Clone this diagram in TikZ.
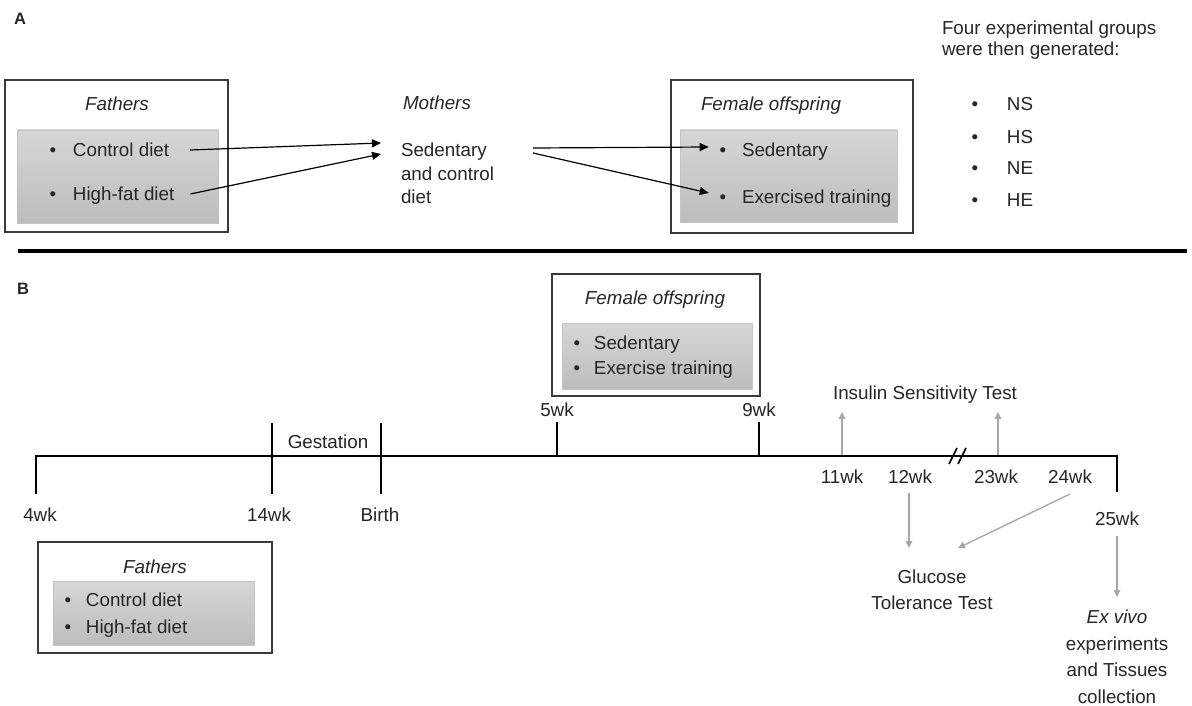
\documentclass[tikz,border=0pt]{standalone}
\usepackage{fontspec}
\setmainfont{Liberation Sans}
\usetikzlibrary{arrows.meta}
\definecolor{txt}{HTML}{262626}
\definecolor{garr}{HTML}{A6A6A6}
\definecolor{boxline}{HTML}{3A3A3A}
\definecolor{gtop}{HTML}{D6D6D6}
\definecolor{gbot}{HTML}{BDBDBD}
\definecolor{ginline}{HTML}{C4C4C4}
\newcommand\bitem[2]{\makebox[#1][l]{\textbullet}#2}
\begin{document}
\begin{tikzpicture}[x=1pt,y=-1pt,
  every node/.style={inner sep=0pt, outer sep=0pt, text=txt, font=\fontsize{18.8}{23.5}\selectfont},
  lbl/.style={text height=13.5pt,text depth=0pt},
  outerbox/.style={draw=boxline,line width=1.3pt,fill=white,anchor=north west},
  innerbox/.style={draw=ginline,line width=0.8pt,top color=gtop,bottom color=gbot,anchor=north west},
  blk/.style={draw=black,line width=1.2pt,-{Triangle[length=9pt,width=8pt]}},
  garrow/.style={draw=garr,line width=1.3pt,-{Triangle[length=7pt,width=6.5pt]}},
  axis/.style={draw=black,line width=1.8pt},
  tick/.style={draw=black,line width=2pt},
  panel/.style={lbl,font=\fontsize{16.5}{18}\bfseries},
]
\useasboundingbox (0,0) rectangle (1192,706);
\fill[white] (0,0) rectangle (1192,706);

% ---------- Panel A ----------
\node[panel] (labA) at (20,18) {A};

\node[outerbox,minimum width=223pt,minimum height=152pt] (fAbox) at (5,80) {};
\node[innerbox,minimum width=201pt,minimum height=93pt] (fAin) at (17,130) {};
\node[lbl] (fAt) at (117,104) {\itshape Fathers};
\node[lbl,anchor=west] (fAc) at (49.7,150) {\bitem{23.3pt}{Control diet}};
\node[lbl,anchor=west] (fAh) at (49.7,194) {\bitem{23.3pt}{High-fat diet}};

\node[lbl,anchor=west] (mT) at (403,103) {\itshape Mothers};
\node[anchor=north west,align=left] (mS) at (401,143) {Sedentary\\and control\\diet};

\node[outerbox,minimum width=242pt,minimum height=153pt] (foAbox) at (671,80) {};
\node[innerbox,minimum width=217pt,minimum height=92pt] (foAin) at (680,130) {};
\node[lbl,anchor=west] (foAt) at (701,104) {\itshape Female offspring};
\node[lbl,anchor=west] (foS) at (719.7,150) {\bitem{22.3pt}{Sedentary}};
\node[lbl,anchor=west] (foE) at (719.7,197) {\bitem{22.3pt}{Exercised training}};

\draw[blk] ([xshift=21pt]fAc.east) -- ([xshift=-20pt]mS.north west);
\draw[blk] ([xshift=16pt]fAh.east) -- ([xshift=-20pt,yshift=-11pt]mS.north west);
\draw[blk] ([xshift=39pt,yshift=-5pt]mS.north east) -- ([xshift=-11pt,yshift=3pt]foS.west);
\draw[blk] ([xshift=39pt,yshift=-10pt]mS.north east) -- ([xshift=-11pt,yshift=4pt]foE.west);

\node[anchor=north west,align=left,font=\fontsize{18.8}{21}\selectfont] (four) at (942,21) {Four experimental groups\\were then generated:};
\node[lbl,anchor=west] (gNS) at (971.7,104) {\bitem{35.3pt}{NS}};
\node[lbl,anchor=west] (gHS) at (971.7,137) {\bitem{35.3pt}{HS}};
\node[lbl,anchor=west] (gNE) at (971.7,168) {\bitem{35.3pt}{NE}};
\node[lbl,anchor=west] (gHE) at (971.7,200) {\bitem{35.3pt}{HE}};

\draw[line width=4pt] (18,251) -- (1187,251);

% ---------- Panel B ----------
\node[panel] (labB) at (23,288) {B};

\node[outerbox,minimum width=208pt,minimum height=122pt] (foBbox) at (552,274) {};
\node[innerbox,minimum width=190pt,minimum height=66pt] (foBin) at (562,323) {};
\node[lbl] (foBt) at (655,298) {\itshape Female offspring};
\node[lbl,anchor=west] (foBs) at (573.7,343) {\bitem{20.3pt}{Sedentary}};
\node[lbl,anchor=west] (foBe) at (573.7,368) {\bitem{20.3pt}{Exercise training}};

\node[outerbox,minimum width=234pt,minimum height=111pt] (fBbox) at (38,542) {};
\node[innerbox,minimum width=201pt,minimum height=64pt] (fBin) at (53,581) {};
\node[lbl] (fBt) at (155,567) {\itshape Fathers};
\node[lbl,anchor=west] (fBc) at (64.7,600) {\bitem{21.3pt}{Control diet}};
\node[lbl,anchor=west] (fBh) at (64.7,627) {\bitem{21.3pt}{High-fat diet}};

% timeline
\draw[axis] (36,456) -- (1117,456);
\draw[tick] (36,455) -- (36,494);
\draw[tick] (272,423) -- (272,494);
\draw[tick] (381,423) -- (381,494);
\draw[tick] (557,422) -- (557,456);
\draw[tick] (759,422) -- (759,456);
\draw[tick] (1117,455) -- (1117,492);
\draw[line width=1.6pt] (949,464) -- (957,448);
\draw[line width=1.6pt] (958,464) -- (966,448);

\node[lbl] (w4) at (40,515) {4wk};
\node[lbl] (w14) at (269,515) {14wk};
\node[lbl] (birth) at (380,515) {Birth};
\node[lbl] (gest) at (328,442) {Gestation};
\node[lbl] (w5) at (557,410) {5wk};
\node[lbl] (w9) at (759,410) {9wk};
\node[lbl] (w11) at (842,477) {11wk};
\node[lbl] (w12) at (910,477) {12wk};
\node[lbl] (w23) at (996,477) {23wk};
\node[lbl] (w24) at (1070,477) {24wk};
\node[lbl] (w25) at (1117,519) {25wk};

\node[lbl] (isi) at (925,393) {Insulin Sensitivity Test};
\node[anchor=north,align=center,font=\fontsize{18.8}{26}\selectfont] (gtt) at (932,570) {Glucose\\Tolerance Test};
\node[anchor=north,align=center,font=\fontsize{18.8}{26.5}\selectfont] (exv) at (1117,610) {\textit{Ex vivo}\\experiments\\and Tissues\\collection};

\coordinate (a11) at (842,455);
\coordinate (b11) at (842,412);
\coordinate (a23) at (998,455);
\coordinate (b23) at (998,412);
\coordinate (a12) at (909,493);
\coordinate (b12) at (909,548);
\coordinate (a24) at (1070,494);
\coordinate (b24) at (958,548);
\coordinate (a25) at (1117,536);
\coordinate (b25) at (1117,597);
\draw[garrow] (a11) -- (b11);
\draw[garrow] (a23) -- (b23);
\draw[garrow] (a12) -- (b12);
\draw[garrow] (a24) -- (b24);
\draw[garrow] (a25) -- (b25);
\end{tikzpicture}
\end{document}
